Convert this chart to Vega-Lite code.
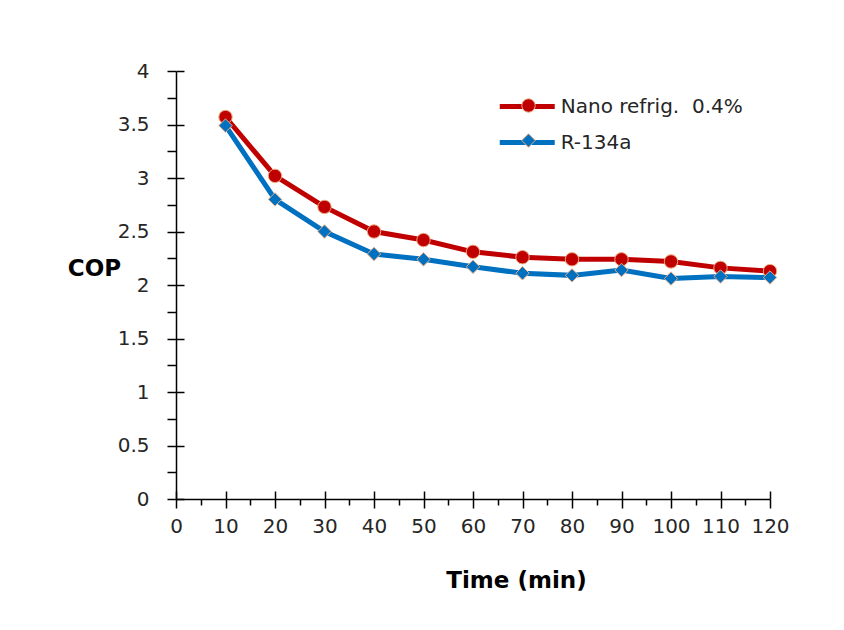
{
  "$schema": "https://vega.github.io/schema/vega-lite/v6.json",
  "width": 594,
  "height": 428,
  "autosize": {"type": "none"},
  "padding": {"left": 176, "top": 71, "right": 74, "bottom": 131},
  "background": "white",
  "config": {
    "view": {"stroke": null},
    "font": "DejaVu Sans",
    "axis": {"grid": false, "domainColor": "#000000", "tickColor": "#000000", "domainWidth": 1.5, "tickWidth": 1.5, "labelFont": "DejaVu Sans", "labelFontSize": 20, "labelColor": "#262626", "titleFont": "DejaVu Sans", "titleFontSize": 23, "titleFontWeight": "bold", "titleColor": "#000000"}
  },
  "data": {
    "values": [
      {"t": 10, "series": "Nano refrig. \u00a00.4%", "cop": 3.57},
      {"t": 20, "series": "Nano refrig. \u00a00.4%", "cop": 3.02},
      {"t": 30, "series": "Nano refrig. \u00a00.4%", "cop": 2.73},
      {"t": 40, "series": "Nano refrig. \u00a00.4%", "cop": 2.50},
      {"t": 50, "series": "Nano refrig. \u00a00.4%", "cop": 2.42},
      {"t": 60, "series": "Nano refrig. \u00a00.4%", "cop": 2.31},
      {"t": 70, "series": "Nano refrig. \u00a00.4%", "cop": 2.26},
      {"t": 80, "series": "Nano refrig. \u00a00.4%", "cop": 2.24},
      {"t": 90, "series": "Nano refrig. \u00a00.4%", "cop": 2.24},
      {"t": 100, "series": "Nano refrig. \u00a00.4%", "cop": 2.22},
      {"t": 110, "series": "Nano refrig. \u00a00.4%", "cop": 2.16},
      {"t": 120, "series": "Nano refrig. \u00a00.4%", "cop": 2.13},
      {"t": 10, "series": "R-134a", "cop": 3.49},
      {"t": 20, "series": "R-134a", "cop": 2.80},
      {"t": 30, "series": "R-134a", "cop": 2.50},
      {"t": 40, "series": "R-134a", "cop": 2.29},
      {"t": 50, "series": "R-134a", "cop": 2.24},
      {"t": 60, "series": "R-134a", "cop": 2.17},
      {"t": 70, "series": "R-134a", "cop": 2.11},
      {"t": 80, "series": "R-134a", "cop": 2.09},
      {"t": 90, "series": "R-134a", "cop": 2.14},
      {"t": 100, "series": "R-134a", "cop": 2.06},
      {"t": 110, "series": "R-134a", "cop": 2.08},
      {"t": 120, "series": "R-134a", "cop": 2.07}
    ]
  },
  "resolve": {"axis": {"x": "independent", "y": "independent"}},
  "layer": [
    {
      "mark": {"type": "line", "strokeWidth": 5},
      "encoding": {
        "x": {"field": "t", "type": "quantitative", "scale": {"domain": [0, 120], "nice": false},
          "axis": {"orient": "bottom", "title": "Time (min)", "values": [0,10,20,30,40,50,60,70,80,90,100,110,120], "tickSize": 9, "labelPadding": 8, "titleX": 340, "titleY": 81, "titleBaseline": "middle", "titleAlign": "center", "labelFlush": false}},
        "y": {"field": "cop", "type": "quantitative", "scale": {"domain": [0, 4], "nice": false},
          "axis": {"orient": "left", "title": "COP", "format": "~g", "values": [0,0.5,1,1.5,2,2.5,3,3.5,4], "tickSize": 9, "labelPadding": 18, "titleAngle": 0, "titleX": -82, "titleY": 197, "titleBaseline": "middle", "titleAlign": "center", "labelFlush": false}},
        "stroke": {"field": "series", "type": "nominal",
          "scale": {"domain": ["Nano refrig. \u00a00.4%", "R-134a"], "range": ["#C00000", "#0070C0"]},
          "legend": {"title": null, "orient": "none", "legendX": 334.75, "legendY": 19, "symbolType": "M-2,0H2", "symbolSize": 756, "symbolStrokeWidth": 5, "labelFontSize": 20, "labelFont": "DejaVu Sans", "labelColor": "#262626", "labelOffset": 17, "labelLimit": 400, "padding": 0, "rowPadding": 9}}
      }
    },
    {
      "mark": {"type": "point", "filled": true, "size": 180, "opacity": 1, "stroke": "#EBAA80", "strokeWidth": 1},
      "encoding": {
        "x": {"field": "t", "type": "quantitative", "axis": {"orient": "bottom", "title": null, "values": [0,10,20,30,40,50,60,70,80,90,100,110,120], "tickSize": -8, "labels": false, "domain": false}},
        "y": {"field": "cop", "type": "quantitative", "axis": {"orient": "left", "title": null, "values": [0,0.5,1,1.5,2,2.5,3,3.5,4], "tickSize": -8, "labels": false, "domain": false}},
        "fill": {"field": "series", "type": "nominal",
          "scale": {"range": ["#C00000", "#0070C0"]},
          "legend": {"title": null, "orient": "none", "legendX": 342.5, "legendY": 24.5, "symbolSize": 180, "symbolStrokeColor": "#EBAA80", "symbolStrokeWidth": 1, "labelFontSize": 20, "labelExpr": "''", "padding": 0, "rowPadding": 15}},
        "shape": {"field": "series", "type": "nominal",
          "scale": {"range": ["circle", "diamond"]}}
      }
    },
    {
      "mark": {"type": "point", "opacity": 0},
      "encoding": {
        "x": {"field": "t", "type": "quantitative", "axis": {"orient": "bottom", "title": null, "values": [5,15,25,35,45,55,65,75,85,95,105,115], "tickSize": 6, "labels": false, "domain": false}},
        "y": {"field": "cop", "type": "quantitative", "axis": {"orient": "left", "title": null, "values": [0.25,0.75,1.25,1.75,2.25,2.75,3.25,3.75], "tickSize": 9, "labels": false, "domain": false}}
      }
    }
  ]
}
